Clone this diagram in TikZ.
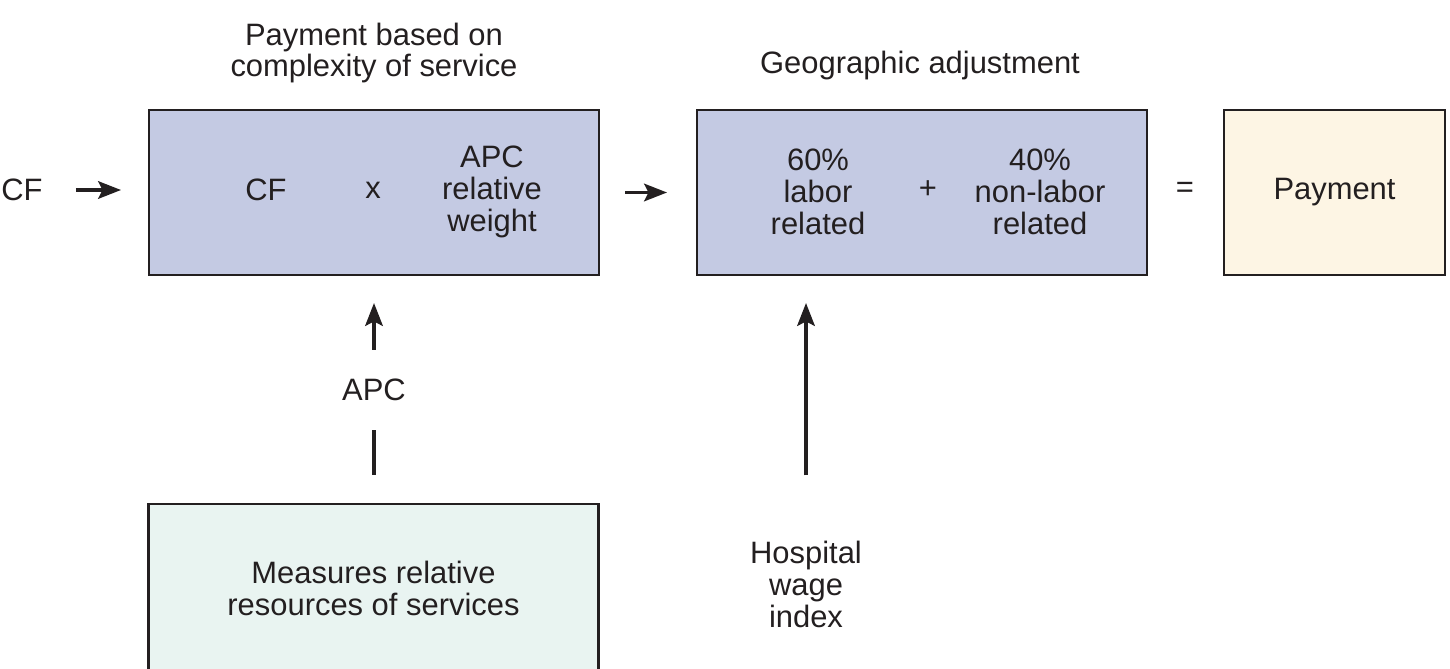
\documentclass[tikz,border=0pt]{standalone}
\usepackage{fontspec}
\setmainfont{Liberation Sans}
\usetikzlibrary{arrows.meta}
\definecolor{inkdark}{HTML}{231F20}
\definecolor{weightblue}{HTML}{C4CAE3}
\definecolor{payyellow}{HTML}{FDF5E4}
\definecolor{resmint}{HTML}{E9F4F1}

\begin{document}
\begin{tikzpicture}[x=0.02cm, y=-0.02cm,
    txt/.style={inner sep=0pt, align=center, text=inkdark, font=\fontsize{17.6pt}{18.2pt}\selectfont},
    panel/.style={draw=inkdark, line width=1.2pt, minimum width=9cm, minimum height=3.3cm, txt},
    flow/.style={draw=inkdark, line width=1.9pt, -{Stealth[length=13pt, width=10pt, inset=2.5pt]}},
    link/.style={draw=inkdark, line width=1.9pt}]
  \clip (0,0) rectangle (1450,669);

  % headings
  \node[txt] (head1) at (374,53) {Payment based on\\complexity of service};
  \node[txt] (head2) at (920,66) {Geographic adjustment};

  % boxes
  \node[panel, fill=weightblue] (box1) at (374,192.5) {};
  \node[panel, fill=weightblue] (box2) at (922,192.5) {};
  \node[panel, fill=payyellow, minimum width=4.42cm] (box3) at (1334.5,192.5) {Payment};
  \node[panel, fill=resmint, minimum height=3.36cm] (box4) at (373.5,588) {Measures relative\\resources of services};

  % terms inside the boxes
  \node[txt] (cfin) at (22,190) {CF};
  \node[txt] (cf) at (266,190) {CF};
  \node[txt] (times) at (373,190) {x};
  \node[txt] (weight) at (492,192) {APC\\relative\\weight};
  \node[txt] (labor) at (818,192) {60\%\\labor\\related};
  \node[txt] (plus) at (928,190) {+};
  \node[txt] (nonlabor) at (1040,192) {40\%\\non-labor\\related};
  \node[txt] (eq) at (1185,190) {=};

  \node[txt] (apc) at (374,390) {APC};
  \node[txt] (wage) at (806,584) {Hospital\\wage\\index};

  % connectors
  \draw[flow, shorten <=0.66cm, shorten >=0.54cm] (cfin) -- (cfin -| box1.west);
  \draw[flow, shorten <=0.5cm, shorten >=0.58cm] (box1) -- (box2);
  \draw[flow, shorten <=0.58cm, shorten >=0.54cm] (apc) -- (box1.south);
  \draw[link, shorten <=0.56cm, shorten >=0.58cm] (box4.north -| apc) -- (apc);
  \draw[flow, shorten <=1.3cm, shorten >=0.54cm] (wage) -- (wage |- box2.south);
\end{tikzpicture}
\end{document}
